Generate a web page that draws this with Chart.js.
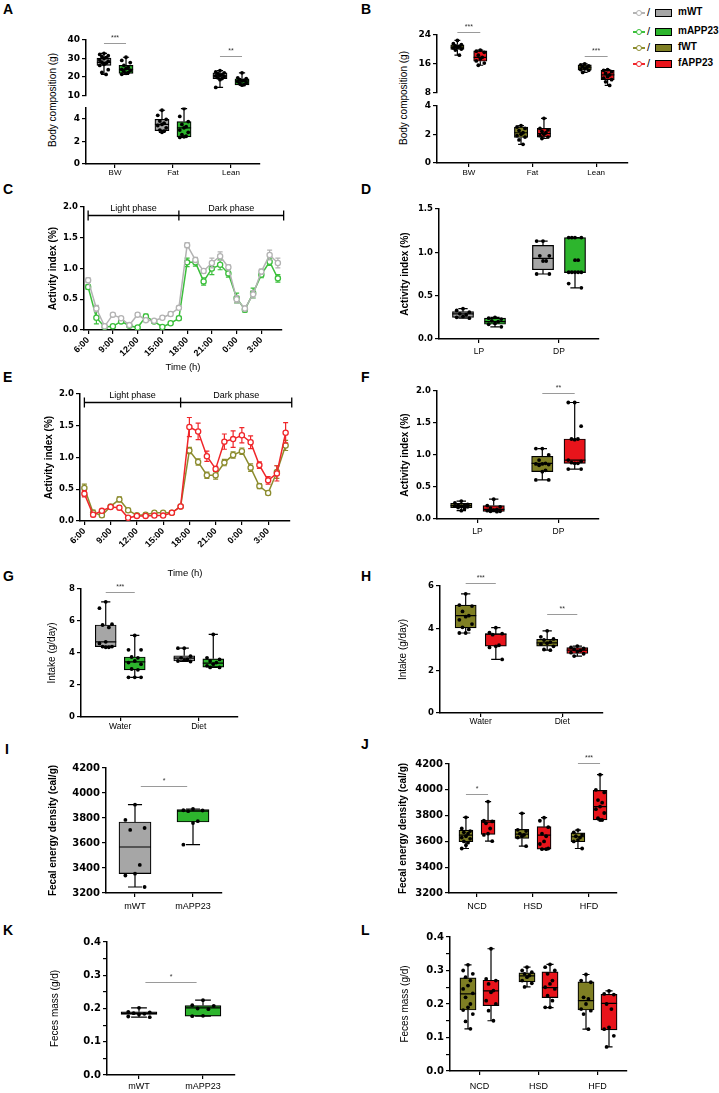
<!DOCTYPE html>
<html>
<head>
<meta charset="utf-8">
<script src="https://cdn.jsdelivr.net/npm/chart.js@4.4.0/dist/chart.umd.min.js"></script>
<style>
  body { margin: 0; width: 719px; height: 1093px; position: relative; overflow: hidden; background: #fff;
         font-family: "Liberation Sans", Arial, sans-serif; color: #000; }
  canvas { position: absolute; }
  .lbl { position: absolute; font-weight: bold; font-size: 14px; line-height: 1; }
  .yt { position: absolute; font-size: 10px; white-space: nowrap; transform: translate(-50%, -50%) rotate(-90deg); }
  .leg { position: absolute; left: 0; height: 12px; width: 719px; }
  .leg .ln { position: absolute; left: 633px; top: 5px; width: 12px; height: 1.5px; }
  .leg .ln i { position: absolute; left: 3px; top: -2.5px; width: 4px; height: 4px; border-radius: 50%; background: #fff; border: 1.2px solid; }
  .leg .sl { position: absolute; left: 647px; top: -1px; font-size: 11px; }
  .leg .bx { position: absolute; left: 655px; top: 2px; width: 15px; height: 6px; border: 1.2px solid #000; }
  .leg .tx { position: absolute; left: 678px; top: -1px; font-size: 10px; font-weight: bold; }
</style>
</head>
<body>
<div class="lbl" style="left:3px;top:2px">A</div>
<div class="lbl" style="left:361px;top:2px">B</div>
<div class="lbl" style="left:3px;top:182px">C</div>
<div class="lbl" style="left:361px;top:182px">D</div>
<div class="lbl" style="left:3px;top:370px">E</div>
<div class="lbl" style="left:361px;top:370px">F</div>
<div class="lbl" style="left:3px;top:569px">G</div>
<div class="lbl" style="left:361px;top:569px">H</div>
<div class="lbl" style="left:5px;top:742px">I</div>
<div class="lbl" style="left:361px;top:737px">J</div>
<div class="lbl" style="left:3px;top:923px">K</div>
<div class="lbl" style="left:361px;top:923px">L</div>
<div class="yt" style="left:52px;top:100px">Body composition (g)</div>
<div class="yt" style="left:403px;top:98px">Body composition (g)</div>
<div id="legend"></div>
<script>
const FONT = '"Liberation Sans", Arial, sans-serif';
const TICK_FONT = '"DejaVu Sans", sans-serif';

// ---------- data ----------
const groupNames = ['mWT', 'mAPP23', 'fWT', 'fAPP23'];
const boxColors = ['#a6a6a6', '#2db52d', '#7f7f24', '#e8141b'];
const lineColors = ['#b3b3b3', '#3cbf3c', '#8c8c2e', '#f0262a'];

const hours = ['6:00', '7:00', '8:00', '9:00', '10:00', '11:00', '12:00', '13:00', '14:00', '15:00', '16:00', '17:00',
  '18:00', '19:00', '20:00', '21:00', '22:00', '23:00', '0:00', '1:00', '2:00', '3:00', '4:00', '5:00'];
const phaseNames = ['Light phase', 'Dark phase'];
const phaseEdges = [0, 11, 23.7];
const phaseLevel = 1.87;

// C: activity, males
const cMWT = [0.81, 0.35, 0.06, 0.25, 0.19, 0.08, 0.25, 0.16, 0.15, 0.2, 0.26, 0.36, 1.38, 1.14, 0.96, 1.09, 1.2, 1.02, 0.5, 0.35, 0.58, 0.95, 1.22, 1.09];
const cMWTErr = [0.04, 0.05, 0.02, 0.02, 0.02, 0.02, 0.03, 0.02, 0.02, 0.02, 0.03, 0.03, 0.04, 0.04, 0.04, 0.08, 0.07, 0.04, 0.06, 0.04, 0.06, 0.04, 0.08, 0.08];
const cMAPP = [0.7, 0.2, 0.05, 0.06, 0.14, 0.07, 0.04, 0.22, 0.14, 0.05, 0.11, 0.19, 1.1, 1.1, 0.79, 1.0, 1.06, 0.92, 0.52, 0.33, 0.6, 0.9, 1.11, 0.84];
const cMAPPErr = [0.04, 0.1, 0.02, 0.02, 0.03, 0.02, 0.02, 0.04, 0.02, 0.02, 0.02, 0.03, 0.07, 0.06, 0.06, 0.1, 0.08, 0.06, 0.08, 0.04, 0.08, 0.05, 0.06, 0.06];

// E: activity, females
const eFAPP = [0.43, 0.1, 0.16, 0.22, 0.21, 0.05, 0.08, 0.08, 0.085, 0.085, 0.13, 0.23, 1.48, 1.41, 1.02, 0.82, 1.25, 1.29, 1.35, 1.24, 0.88, 0.64, 0.75, 1.39];
const eFAPPErr = [0.05, 0.03, 0.02, 0.02, 0.03, 0.02, 0.02, 0.02, 0.02, 0.02, 0.02, 0.02, 0.15, 0.13, 0.08, 0.04, 0.12, 0.13, 0.12, 0.1, 0.05, 0.06, 0.12, 0.16];
const eFWT = [0.52, 0.13, 0.09, 0.23, 0.34, 0.17, 0.09, 0.1, 0.13, 0.13, 0.13, 0.23, 1.11, 0.93, 0.72, 0.72, 0.92, 1.04, 1.1, 0.84, 0.55, 0.44, 0.77, 1.19];
const eFWTErr = [0.06, 0.04, 0.03, 0.02, 0.04, 0.03, 0.02, 0.02, 0.02, 0.02, 0.02, 0.02, 0.05, 0.05, 0.05, 0.06, 0.05, 0.05, 0.05, 0.06, 0.04, 0.03, 0.1, 0.08];

// box stats are [min, q1, median, q3, max]
const bodyCats = ['BW', 'Fat', 'Lean'];
const aMWTStats = [[21.4, 26.3, 27.9, 30.2, 32.8], [2.8, 2.95, 3.5, 3.95, 4.75], [14.4, 19.2, 20.6, 22.3, 23.5]];
const aMAPPStats = [[21.5, 22.0, 24.2, 26.3, 30.7], [2.35, 2.4, 3.2, 3.75, 4.9], [15.6, 15.8, 17.9, 19.1, 22.3]];
const aMWTPts = [[32.8, 32.2, 31.5, 31, 30.5, 30, 29.2, 28.6, 28, 27.5, 26.8, 26.3, 24, 22.5, 21.4],
  [4.75, 4.3, 3.95, 3.8, 3.6, 3.5, 3.4, 3.2, 3.0, 2.9, 2.8],
  [23.5, 22.8, 22.3, 21.8, 21.2, 20.9, 20.6, 20.2, 19.6, 19.2, 18.6, 14.4]];
const aMAPPPts = [[30.7, 29, 27.8, 26.3, 25.2, 24.6, 24.1, 23.6, 23, 22.4, 22, 21.5],
  [4.9, 4.2, 3.75, 3.5, 3.3, 3.2, 3.0, 2.8, 2.6, 2.45, 2.4, 2.35],
  [22.3, 19.6, 19.1, 18.6, 18.2, 17.9, 17.5, 17, 16.4, 15.9, 15.6]];
const aSigCats = [0, 2], aSigVals = [38.4, 31.6], aSigText = ['***', '**'];

const bFWTStats = [[18.4, 20.0, 20.6, 21.3, 22.5], [1.3, 1.77, 2.1, 2.5, 2.6], [13.6, 14.2, 14.9, 15.7, 16.0]];
const bFAPPStats = [[15.6, 16.7, 17.8, 19.6, 19.8], [1.7, 1.8, 2.05, 2.4, 3.1], [10.0, 11.6, 12.9, 14.2, 14.4]];
const bFWTPts = [[22.5, 21.6, 21.3, 21.0, 20.8, 20.6, 20.4, 20.1, 19.8, 18.4],
  [2.6, 2.5, 2.4, 2.25, 2.1, 2.0, 1.9, 1.8, 1.6, 1.3],
  [16.0, 15.7, 15.4, 15.2, 14.9, 14.7, 14.4, 14.2, 13.6]];
const bFAPPPts = [[19.8, 19.5, 19.2, 18.4, 17.8, 17.4, 16.8, 16.2, 15.6],
  [3.1, 2.4, 2.3, 2.2, 2.1, 2.0, 1.9, 1.8, 1.7],
  [14.4, 14.2, 13.8, 13.3, 12.9, 12.5, 12.0, 11.6, 11.0, 10.0]];
const bSigCats = [0, 2], bSigVals = [24.8, 18.3], bSigText = ['***', '***'];

const phaseCats = ['LP', 'DP'];
const dMWTStats = [[0.24, 0.25, 0.29, 0.315, 0.35], [0.75, 0.8, 0.93, 1.08, 1.13]];
const dMAPPStats = [[0.14, 0.17, 0.2, 0.24, 0.25], [0.59, 0.765, 0.77, 1.17, 1.17]];
const dMWTPts = [[0.35, 0.33, 0.31, 0.29, 0.28, 0.26, 0.25, 0.24], [1.13, 1.13, 0.96, 0.96, 0.9, 0.9, 0.75, 0.75]];
const dMAPPPts = [[0.25, 0.24, 0.23, 0.21, 0.2, 0.18, 0.17, 0.14], [1.17, 1.17, 1.17, 1.17, 0.91, 0.91, 0.77, 0.77, 0.77, 0.77, 0.77, 0.64, 0.59]];

const fFWTStats = [[0.13, 0.177, 0.21, 0.245, 0.28], [0.61, 0.74, 0.87, 0.98, 1.1]];
const fFAPPStats = [[0.115, 0.12, 0.15, 0.21, 0.31], [0.78, 0.87, 0.92, 1.25, 1.82]];
const fFWTPts = [[0.28, 0.25, 0.23, 0.22, 0.21, 0.2, 0.2, 0.19, 0.18, 0.16, 0.13], [1.1, 1.1, 1.0, 0.92, 0.87, 0.86, 0.86, 0.85, 0.84, 0.76, 0.74, 0.61, 0.61]];
const fFAPPPts = [[0.31, 0.21, 0.19, 0.17, 0.15, 0.14, 0.13, 0.12, 0.12, 0.115], [1.82, 1.82, 1.45, 1.25, 1.25, 1.24, 0.92, 0.9, 0.88, 0.87, 0.87, 0.78, 0.78]];
const fSigCats = [1], fSigVals = [1.97], fSigText = ['**'];

const intakeCats = ['Water', 'Diet'];
const gMWTStats = [[4.36, 4.4, 4.7, 5.75, 7.2], [3.47, 3.5, 3.68, 3.83, 4.3]];
const gMAPPStats = [[2.48, 2.95, 3.45, 3.75, 5.1], [3.1, 3.12, 3.37, 3.64, 5.16]];
const gMWTPts = [[7.2, 6.8, 5.8, 5.75, 5.6, 4.7, 4.6, 4.4, 4.4, 4.36, 4.36], [4.3, 4.3, 3.8, 3.7, 3.6, 3.55, 3.5, 3.47]];
const gMAPPPts = [[5.1, 4.2, 4.2, 3.75, 3.7, 3.5, 3.4, 3.3, 3.0, 2.95, 2.48, 2.48, 2.48], [5.16, 3.7, 3.6, 3.5, 3.4, 3.3, 3.2, 3.1, 3.1]];
const gSigCats = [0], gSigVals = [7.8], gSigText = ['***'];

const hFWTStats = [[3.78, 4.02, 4.6, 5.1, 5.63], [2.97, 3.16, 3.31, 3.48, 3.88]];
const hFAPPStats = [[2.53, 3.16, 3.72, 3.75, 4.03], [2.69, 2.81, 2.97, 3.09, 3.16]];
const hFWTPts = [[5.63, 5.1, 5.05, 4.8, 4.6, 4.55, 4.4, 4.2, 4.05, 3.95, 3.78, 3.78], [3.88, 3.6, 3.5, 3.45, 3.35, 3.3, 3.25, 3.15, 3.0, 2.97]];
const hFAPPPts = [[4.03, 3.8, 3.75, 3.7, 3.2, 3.15, 3.1, 2.53], [3.16, 3.1, 3.05, 3.0, 2.95, 2.9, 2.85, 2.8, 2.69]];
const hSigCats = [0, 1], hSigVals = [6.14, 4.68], hSigText = ['***', '**'];

const maleCats = ['mWT', 'mAPP23'];
const iStats = [[3248, 3355, 3568, 3768, 3907], [3587, 3768, 3855, 3867, 3872]];
const iPts = [[3907, 3785, 3720, 3705, 3425, 3355, 3340, 3248], [3872, 3862, 3860, 3855, 3775, 3760, 3587]];
const iSigCats = [0], iSigVals = [4056], iSigText = ['*'];

const dietCats = ['NCD', 'HSD', 'HFD'];
const jFWTStats = [[3545, 3597, 3649, 3688, 3787], [3563, 3623, 3657, 3693, 3818], [3545, 3597, 3636, 3667, 3688]];
const jFAPPStats = [[3602, 3654, 3750, 3766, 3909], [3540, 3540, 3649, 3714, 3784], [3766, 3766, 3870, 3995, 4117]];
const jFWTPts = [[3787, 3700, 3680, 3670, 3660, 3640, 3630, 3620, 3600, 3590, 3570, 3545],
  [3818, 3690, 3680, 3660, 3650, 3640, 3630, 3563],
  [3688, 3670, 3650, 3640, 3630, 3610, 3600, 3545]];
const jFAPPPts = [[3909, 3760, 3755, 3740, 3700, 3660, 3650, 3602],
  [3784, 3760, 3710, 3660, 3640, 3600, 3580, 3545, 3540, 3540],
  [4117, 4000, 3980, 3920, 3900, 3870, 3850, 3820, 3780, 3766, 3766]];
const jSigCats = [0, 2], jSigVals = [3967, 4208], jSigText = ['*', '***'];

const kStats = [[0.174, 0.182, 0.185, 0.19, 0.202], [0.177, 0.177, 0.202, 0.209, 0.225]];
const kPts = [[0.202, 0.19, 0.188, 0.186, 0.184, 0.182, 0.176, 0.174], [0.225, 0.21, 0.208, 0.2, 0.198, 0.178, 0.177]];
const kSigCats = [0], kSigVals = [0.28], kSigText = ['*'];

const lFWTStats = [[0.126, 0.182, 0.23, 0.278, 0.317], [0.251, 0.266, 0.284, 0.293, 0.31], [0.125, 0.182, 0.21, 0.266, 0.288]];
const lFAPPStats = [[0.15, 0.195, 0.239, 0.271, 0.365], [0.189, 0.219, 0.249, 0.296, 0.318], [0.072, 0.123, 0.202, 0.229, 0.239]];
const lFWTPts = [[0.317, 0.3, 0.29, 0.28, 0.27, 0.255, 0.245, 0.232, 0.22, 0.2, 0.19, 0.182, 0.17, 0.148, 0.126],
  [0.31, 0.3, 0.295, 0.29, 0.285, 0.28, 0.27, 0.262, 0.251],
  [0.288, 0.27, 0.265, 0.22, 0.215, 0.2, 0.185, 0.18, 0.17, 0.125]];
const lFAPPPts = [[0.365, 0.275, 0.27, 0.26, 0.24, 0.235, 0.21, 0.2, 0.18, 0.15],
  [0.318, 0.31, 0.3, 0.29, 0.27, 0.26, 0.25, 0.245, 0.225, 0.21, 0.19, 0.19],
  [0.239, 0.23, 0.228, 0.2, 0.185, 0.13, 0.125, 0.105, 0.072]];

// ---------- legend ----------
const legend = document.getElementById('legend');
[13, 32, 48, 64].forEach((cy, i) => {
  const row = document.createElement('div');
  row.className = 'leg';
  row.style.top = (cy - 6) + 'px';
  row.innerHTML = '<span class="ln" style="background:' + lineColors[i] + '"><i style="border-color:' + lineColors[i] + '"></i></span>' +
    '<span class="sl">/</span><span class="bx" style="background:' + boxColors[i] + '"></span>' +
    '<span class="tx">' + groupNames[i] + '</span>';
  legend.appendChild(row);
});

// ---------- helpers ----------
Chart.defaults.font.family = FONT;
Chart.defaults.color = '#000';
Chart.defaults.animation = false;
Chart.defaults.events = [];
Chart.defaults.plugins.legend.display = false;
Chart.defaults.plugins.tooltip.enabled = false;

const JIT = [0, -0.3, 0.3, -0.15, 0.15];

function addCanvas(p) {
  const left = p.area[0] - p.yW;
  const top = p.area[1] - p.padTop;
  const w = p.area[3] + p.padRight - left;
  const h = p.area[2] + p.xH + p.padBottom - top;
  const cv = document.createElement('canvas');
  cv.width = w; cv.height = h;
  cv.style.left = left + 'px'; cv.style.top = top + 'px';
  cv.style.width = w + 'px'; cv.style.height = h + 'px';
  document.body.appendChild(cv);
  return cv;
}

function yAxis(p) {
  const keep = p.y.keep;
  return {
    type: 'linear', position: 'left', bounds: 'data', min: p.y.min, max: p.y.max,
    border: { color: '#000', width: 1.5 },
    grid: { drawOnChartArea: false, tickLength: 4, color: '#000', lineWidth: 1.2 },
    ticks: { stepSize: p.y.step, includeBounds: false, padding: 2, color: '#000',
      font: { family: TICK_FONT, weight: 'bold', size: p.y.size }, callback: p.y.fmt },
    afterBuildTicks: s => { if (keep) s.ticks = s.ticks.filter(t => keep(t.value)); },
    title: p.yTitle ? { display: true, text: p.yTitle, padding: 0, color: '#000',
      font: { family: FONT, size: 10, weight: p.yBold ? 'bold' : 'normal' } } : { display: false },
    afterFit: s => { s.width = p.yW; }
  };
}

const boxPlugin = {
  id: 'boxWhiskers',
  afterDatasetDraw(chart, args) {
    const ds = chart.data.datasets[args.index];
    if (!ds.stats) return;
    const ctx = chart.ctx, ys = chart.scales.y;
    const py = v => ys.getPixelForValue(v);
    ctx.save();
    ctx.strokeStyle = '#000';
    ctx.lineWidth = 1.2;
    args.meta.data.forEach((el, i) => {
      const s = ds.stats[i];
      if (!s) return;
      const x = el.x, hw = el.width / 2, cap = el.width * 0.22;
      ctx.beginPath();
      ctx.moveTo(x - hw, py(s[2])); ctx.lineTo(x + hw, py(s[2]));
      [[s[3], s[4]], [s[1], s[0]]].forEach(([a, b]) => {
        ctx.moveTo(x, py(a)); ctx.lineTo(x, py(b));
        ctx.moveTo(x - cap, py(b)); ctx.lineTo(x + cap, py(b));
      });
      ctx.stroke();
    });
    ctx.restore();
  }
};

function sigPlugin(sig, half) {
  return {
    id: 'sig',
    afterDraw(chart) {
      const ctx = chart.ctx, xp = chart.scales.xp, ys = chart.scales.y;
      ctx.save();
      sig.cats.forEach((c, k) => {
        const x1 = xp.getPixelForValue(half ? c - half : c + 0.1);
        const x2 = xp.getPixelForValue(half ? c + half : c + 0.9);
        const y = Math.round(ys.getPixelForValue(sig.vals[k])) + 0.5;
        ctx.strokeStyle = '#9a9a9a';
        ctx.lineWidth = 1;
        ctx.beginPath(); ctx.moveTo(x1, y); ctx.lineTo(x2, y); ctx.stroke();
        ctx.fillStyle = '#333';
        ctx.font = '7px ' + FONT;
        ctx.textAlign = 'center';
        ctx.textBaseline = 'bottom';
        ctx.fillText(sig.texts[k], (x1 + x2) / 2, y - 2);
      });
      ctx.restore();
    }
  };
}

// boxes and dots both sit on the hidden linear "xp" axis that mirrors the category axis
function boxChart(p) {
  const cv = addCanvas(p);
  const ng = p.groups.length, n = p.labels.length;
  const slot = p.cat / ng;
  const catW = (p.area[3] - p.area[0]) / n;
  const show = p.show || (() => true);
  const datasets = [];
  p.groups.forEach((g, gi) => {
    const off = (gi - (ng - 1) / 2) * slot;
    const cats = p.labels.map((l, ci) => ci).filter(show);
    const pts = [];
    cats.forEach(ci => {
      g.pts[ci].forEach((v, j) => pts.push({ x: ci + off + JIT[j % JIT.length] * slot * p.bar, y: v }));
    });
    datasets.push({ type: 'scatter', xAxisID: 'xp', yAxisID: 'y', data: pts, order: 1,
      pointRadius: 1.9, pointBackgroundColor: '#000', pointBorderWidth: 0 });
    datasets.push({ type: 'bar', xAxisID: 'xp', yAxisID: 'y', order: 2, grouped: false,
      barThickness: catW * slot * p.bar,
      data: cats.map(ci => ({ x: ci + off, y: [g.stats[ci][1], g.stats[ci][3]] })),
      stats: cats.map(ci => g.stats[ci]),
      backgroundColor: Array.isArray(g.color) ? cats.map(ci => g.color[ci]) : g.color,
      borderColor: '#000', borderWidth: 1.2, borderSkipped: false });
  });
  const plugins = [boxPlugin];
  if (p.sig) plugins.push(sigPlugin(p.sig, ng === 2 ? slot / 2 : 0));
  return new Chart(cv, {
    type: 'bar',
    data: { labels: p.labels, datasets },
    options: {
      responsive: false,
      layout: { padding: { left: 0, top: p.padTop, right: p.padRight, bottom: p.padBottom } },
      scales: {
        x: { type: 'category', display: p.showX !== false, offset: true,
          border: { color: '#000', width: 1.5 },
          grid: { offset: false, drawOnChartArea: false, tickLength: 4, color: '#000', lineWidth: 1.2 },
          ticks: { color: '#000', padding: p.xPad || 0, font: { family: FONT, size: p.catSize } },
          afterFit: s => { s.height = p.xH; } },
        xp: { type: 'linear', display: false, bounds: 'data', offset: false, min: -0.5, max: n - 0.5 },
        y: yAxis(p)
      }
    },
    plugins
  });
}

const errPlugin = {
  id: 'errBars',
  beforeDatasetDraw(chart, args) {
    const ds = chart.data.datasets[args.index];
    if (!ds.err) return;
    const ctx = chart.ctx, ys = chart.scales.y;
    ctx.save();
    ctx.strokeStyle = ds.borderColor;
    ctx.lineWidth = 1.2;
    ctx.beginPath();
    args.meta.data.forEach((el, i) => {
      const t = ys.getPixelForValue(ds.data[i] + ds.err[i]);
      const b = ys.getPixelForValue(ds.data[i] - ds.err[i]);
      ctx.moveTo(el.x, t); ctx.lineTo(el.x, b);
      ctx.moveTo(el.x - 2.5, t); ctx.lineTo(el.x + 2.5, t);
      ctx.moveTo(el.x - 2.5, b); ctx.lineTo(el.x + 2.5, b);
    });
    ctx.stroke();
    ctx.restore();
  }
};

const phasePlugin = {
  id: 'phases',
  afterDraw(chart) {
    const ctx = chart.ctx, xs = chart.scales.x, ys = chart.scales.y;
    const y = Math.round(ys.getPixelForValue(phaseLevel)) + 0.5;
    const px = phaseEdges.map(v => xs.getPixelForValue(v));
    ctx.save();
    ctx.strokeStyle = '#000';
    ctx.lineWidth = 1.3;
    ctx.beginPath();
    ctx.moveTo(px[0], y); ctx.lineTo(px[px.length - 1], y);
    px.forEach(x => { ctx.moveTo(x, y - 5); ctx.lineTo(x, y + 5); });
    ctx.stroke();
    ctx.fillStyle = '#000';
    ctx.font = '9px ' + FONT;
    ctx.textAlign = 'center';
    ctx.textBaseline = 'bottom';
    phaseNames.forEach((t, i) => ctx.fillText(t, (px[i] + px[i + 1]) / 2, y - 2));
    ctx.restore();
  }
};

function lineChart(p) {
  const cv = addCanvas(p);
  const datasets = p.series.map(s => ({
    type: 'line', data: s.vals, err: s.err, borderColor: s.color, borderWidth: 1.5, tension: 0,
    pointRadius: 2.6, pointBackgroundColor: '#fff', pointBorderColor: s.color, pointBorderWidth: 1.3
  }));
  return new Chart(cv, {
    type: 'line',
    data: { labels: hours, datasets },
    options: {
      responsive: false,
      layout: { padding: { left: 0, top: p.padTop, right: p.padRight, bottom: p.padBottom } },
      scales: {
        x: { type: 'category', offset: true,
          border: { color: '#000', width: 1.5 },
          grid: { offset: false, drawOnChartArea: false, tickLength: 4, color: '#000', lineWidth: 1.2 },
          ticks: { autoSkip: false, minRotation: 45, maxRotation: 45, padding: 1, color: '#000',
            font: { family: FONT, size: 9, weight: 'bold' } },
          afterBuildTicks: s => { s.ticks = s.ticks.filter((t, i) => i % 3 === 0); },
          title: { display: true, text: 'Time (h)', padding: 0, color: '#000', font: { family: FONT, size: 9.5 } },
          afterFit: s => { s.height = p.xH; } },
        y: yAxis(p)
      }
    },
    plugins: [errPlugin, phasePlugin]
  });
}

const int = v => String(v);
const dec1 = v => v.toFixed(1);
const every200 = v => (Math.round(v) % 200 === 0 ? String(Math.round(v)) : '');
const every01 = v => (Math.round(v * 100) % 10 === 0 ? v.toFixed(1) : '');
const even = v => Math.round(v) % 2 === 0;

// ---------- A ----------
const aGroups = [
  { color: boxColors[0], stats: aMWTStats, pts: aMWTPts },
  { color: boxColors[1], stats: aMAPPStats, pts: aMAPPPts }
];
boxChart({ area: [86, 40, 97, 260], yW: 40, padTop: 8, padRight: 4, padBottom: 6, xH: 0, showX: false,
  labels: bodyCats, groups: aGroups, show: i => i !== 1, cat: 0.76, bar: 0.64, catSize: 8,
  y: { min: 10, max: 40, step: 10, size: 9, fmt: int },
  sig: { cats: aSigCats, vals: aSigVals, texts: aSigText } });
boxChart({ area: [86, 106, 164, 260], yW: 40, padTop: 6, padRight: 4, padBottom: 0, xH: 20, xPad: 0,
  labels: bodyCats, groups: aGroups, show: i => i === 1, cat: 0.76, bar: 0.64, catSize: 8,
  y: { min: 0, max: 5, step: 2, size: 9, fmt: int, keep: even } });

// ---------- B ----------
const bGroups = [
  { color: boxColors[2], stats: bFWTStats, pts: bFWTPts },
  { color: boxColors[3], stats: bFAPPStats, pts: bFAPPPts }
];
boxChart({ area: [437, 35, 94, 628], yW: 40, padTop: 14, padRight: 4, padBottom: 6, xH: 0, showX: false,
  labels: bodyCats, groups: bGroups, show: i => i !== 1, cat: 0.72, bar: 0.58, catSize: 8,
  y: { min: 8, max: 24, step: 8, size: 9, fmt: int },
  sig: { cats: bSigCats, vals: bSigVals, texts: bSigText } });
boxChart({ area: [437, 104, 163, 628], yW: 40, padTop: 6, padRight: 4, padBottom: 0, xH: 20, xPad: 1,
  labels: bodyCats, groups: bGroups, show: i => i === 1, cat: 0.72, bar: 0.58, catSize: 8,
  y: { min: 0, max: 4, step: 2, size: 9, fmt: int, keep: even } });

// ---------- C / E ----------
lineChart({ area: [84, 207, 330, 282], yW: 37, padTop: 10, padRight: 6, padBottom: 0, xH: 43,
  yTitle: 'Activity index (%)', yBold: true,
  y: { min: 0, max: 2, step: 0.5, size: 8.5, fmt: dec1 },
  series: [{ vals: cMWT, err: cMWTErr, color: lineColors[0] }, { vals: cMAPP, err: cMAPPErr, color: lineColors[1] }] });
lineChart({ area: [80, 394, 521, 290], yW: 37, padTop: 10, padRight: 6, padBottom: 0, xH: 58,
  yTitle: 'Activity index (%)', yBold: true,
  y: { min: 0, max: 2, step: 0.5, size: 8.5, fmt: dec1 },
  series: [{ vals: eFAPP, err: eFAPPErr, color: lineColors[3] }, { vals: eFWT, err: eFWTErr, color: lineColors[2] }] });

// ---------- D / F ----------
boxChart({ area: [439, 209, 339, 599], yW: 40, padTop: 8, padRight: 4, padBottom: 0, xH: 22, xPad: 4,
  labels: phaseCats, cat: 0.8, bar: 0.66, catSize: 8.5, yTitle: 'Activity index (%)', yBold: true,
  groups: [{ color: boxColors[0], stats: dMWTStats, pts: dMWTPts }, { color: boxColors[1], stats: dMAPPStats, pts: dMAPPPts }],
  y: { min: 0, max: 1.5, step: 0.5, size: 8.5, fmt: dec1 } });
boxChart({ area: [437, 391, 519, 599], yW: 38, padTop: 12, padRight: 4, padBottom: 0, xH: 22, xPad: 4,
  labels: phaseCats, cat: 0.8, bar: 0.66, catSize: 8.5, yTitle: 'Activity index (%)', yBold: true,
  groups: [{ color: boxColors[2], stats: fFWTStats, pts: fFWTPts }, { color: boxColors[3], stats: fFAPPStats, pts: fFAPPPts }],
  y: { min: 0, max: 2, step: 0.5, size: 8.5, fmt: dec1 },
  sig: { cats: fSigCats, vals: fSigVals, texts: fSigText } });

// ---------- G / H ----------
boxChart({ area: [81, 589, 717, 238], yW: 35, padTop: 10, padRight: 4, padBottom: 0, xH: 20, xPad: 1,
  labels: intakeCats, cat: 0.74, bar: 0.72, catSize: 8.5, yTitle: 'Intake (g/day)',
  groups: [{ color: boxColors[0], stats: gMWTStats, pts: gMWTPts }, { color: boxColors[1], stats: gMAPPStats, pts: gMAPPPts }],
  y: { min: 0, max: 8, step: 2, size: 8.5, fmt: int },
  sig: { cats: gSigCats, vals: gSigVals, texts: gSigText } });
boxChart({ area: [440, 586, 713, 603], yW: 43, padTop: 14, padRight: 4, padBottom: 0, xH: 20, xPad: 0,
  labels: intakeCats, cat: 0.74, bar: 0.7, catSize: 8.5, yTitle: 'Intake (g/day)',
  groups: [{ color: boxColors[2], stats: hFWTStats, pts: hFWTPts }, { color: boxColors[3], stats: hFAPPStats, pts: hFAPPPts }],
  y: { min: 0, max: 6, step: 2, size: 8.5, fmt: int },
  sig: { cats: hSigCats, vals: hSigVals, texts: hSigText } });

// ---------- I / J ----------
boxChart({ area: [106, 768, 893, 222], yW: 59, padTop: 10, padRight: 4, padBottom: 0, xH: 22, xPad: 4,
  labels: maleCats, cat: 0.8, bar: 0.69, catSize: 9, yTitle: 'Fecal energy density (cal/g)', yBold: true,
  groups: [{ color: [boxColors[0], boxColors[1]], stats: iStats, pts: iPts }],
  y: { min: 3200, max: 4200, step: 100, size: 10, fmt: every200 },
  sig: { cats: iSigCats, vals: iSigVals, texts: iSigText } });
boxChart({ area: [449, 764, 893, 617], yW: 52, padTop: 14, padRight: 4, padBottom: 0, xH: 22, xPad: 4,
  labels: dietCats, cat: 0.79, bar: 0.63, catSize: 9, yTitle: 'Fecal energy density (cal/g)', yBold: true,
  groups: [{ color: boxColors[2], stats: jFWTStats, pts: jFWTPts }, { color: boxColors[3], stats: jFAPPStats, pts: jFAPPPts }],
  y: { min: 3200, max: 4200, step: 100, size: 10, fmt: every200 },
  sig: { cats: jSigCats, vals: jSigVals, texts: jSigText } });

// ---------- K / L ----------
boxChart({ area: [107, 942, 1075, 235], yW: 58, padTop: 8, padRight: 4, padBottom: 0, xH: 18, xPad: 2,
  labels: maleCats, cat: 0.8, bar: 0.7, catSize: 9, yTitle: 'Feces mass (g/d)',
  groups: [{ color: [boxColors[0], boxColors[1]], stats: kStats, pts: kPts }],
  y: { min: 0, max: 0.4, step: 0.05, size: 10, fmt: every01 },
  sig: { cats: kSigCats, vals: kSigVals, texts: kSigText } });
boxChart({ area: [450, 937, 1071, 627], yW: 51, padTop: 8, padRight: 4, padBottom: 0, xH: 22, xPad: 6,
  labels: dietCats, cat: 0.78, bar: 0.7, catSize: 9, yTitle: 'Feces mass (g/d)',
  groups: [{ color: boxColors[2], stats: lFWTStats, pts: lFWTPts }, { color: boxColors[3], stats: lFAPPStats, pts: lFAPPPts }],
  y: { min: 0, max: 0.4, step: 0.05, size: 10, fmt: every01 } });
</script>
</body>
</html>
